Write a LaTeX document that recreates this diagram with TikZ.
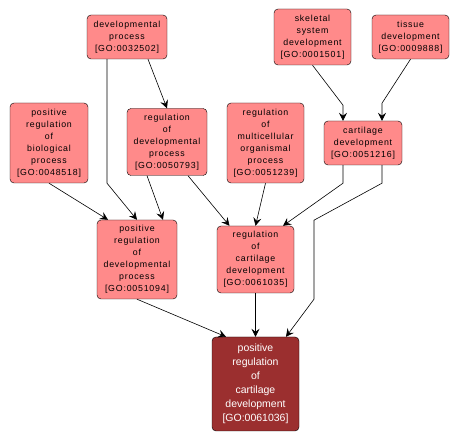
\documentclass[tikz,border=0pt]{standalone}
\usepackage{fontspec}
\usepackage{xcolor}
\usetikzlibrary{arrows.meta}
\newfontfamily\gofont[LetterSpace=9]{Liberation Sans}
\newfontfamily\gofontb{Liberation Sans}
\definecolor{termcolor}{RGB}{255,138,138}
\definecolor{querycolor}{RGB}{155,47,47}

\begin{document}
\begin{tikzpicture}[
    x=1pt, y=-1pt,
    term/.style={draw=black, fill=termcolor, rounded corners=4pt, inner sep=0pt, align=center, font=\gofont\fontsize{8.8}{12}\selectfont},
    query/.style={draw=black, fill=querycolor, text=white, rounded corners=4pt, inner sep=0pt, align=center, font=\gofontb\fontsize{10.5}{14}\selectfont},
    arrow/.style={-{Stealth[length=8pt, width=8pt, inset=3pt]}, semithick}
]
    \useasboundingbox (0,0) rectangle (459,441);

    \node[term, minimum width=80pt, minimum height=44pt] (devproc) at (127,37) {developmental\\process\\{[GO:0032502]}};
    \node[term, minimum width=77pt, minimum height=56pt] (skeletal) at (312.5,37) {skeletal\\system\\development\\{[GO:0001501]}};
    \node[term, minimum width=77pt, minimum height=44pt] (tissue) at (410.5,37) {tissue\\development\\{[GO:0009888]}};
    \node[term, minimum width=78pt, minimum height=80pt] (posregbio) at (49,143) {positive\\regulation\\of\\biological\\process\\{[GO:0048518]}};
    \node[term, minimum width=80pt, minimum height=67pt] (regdev) at (167,142) {regulation\\of\\developmental\\process\\{[GO:0050793]}};
    \node[term, minimum width=77pt, minimum height=80pt] (regmulti) at (265.5,143) {regulation\\of\\multicellular\\organismal\\process\\{[GO:0051239]}};
    \node[term, minimum width=78pt, minimum height=44pt] (cartdev) at (363,143) {cartilage\\development\\{[GO:0051216]}};
    \node[term, minimum width=80pt, minimum height=79pt] (posregdev) at (137,259.5) {positive\\regulation\\of\\developmental\\process\\{[GO:0051094]}};
    \node[term, minimum width=77pt, minimum height=67pt] (regcart) at (255.5,259.5) {regulation\\of\\cartilage\\development\\{[GO:0061035]}};
    \node[query, minimum width=87pt, minimum height=94pt] (posregcart) at (255.5,384) {positive\\regulation\\of\\cartilage\\development\\{[GO:0061036]}};

    \draw[arrow] ([xshift=-20pt]devproc.south) -- ++(0,124) -- (posregdev.north);
    \draw[arrow] ([xshift=21pt]devproc.south) -- (regdev.north);
    \draw[arrow] (posregbio.south) -- ([xshift=-29pt]posregdev.north);
    \draw[arrow] ([xshift=-20pt]regdev.south) -- ([xshift=26pt]posregdev.north);
    \draw[arrow] ([xshift=21pt]regdev.south) -- ([xshift=-26pt]regcart.north);
    \draw[arrow] (regmulti.south) -- (regcart.north);
    \draw[arrow] (skeletal.south) -- ++(30.5,40) -- ([xshift=-20pt]cartdev.north);
    \draw[arrow] (tissue.south) -- ++(-28.5,44) -- ([xshift=19pt]cartdev.north);
    \draw[arrow] ([xshift=-20pt]cartdev.south) -- ++(0,18) -- ([xshift=27.5pt]regcart.north);
    \draw[arrow] ([xshift=19pt]cartdev.south) -- ++(0,18) -- ++(-68,37) -- ++(0,79) -- ([xshift=30.5pt]posregcart.north);
    \draw[arrow] (posregdev.south) -- ([xshift=-29.5pt]posregcart.north);
    \draw[arrow] (regcart.south) -- (posregcart.north);
\end{tikzpicture}
\end{document}
